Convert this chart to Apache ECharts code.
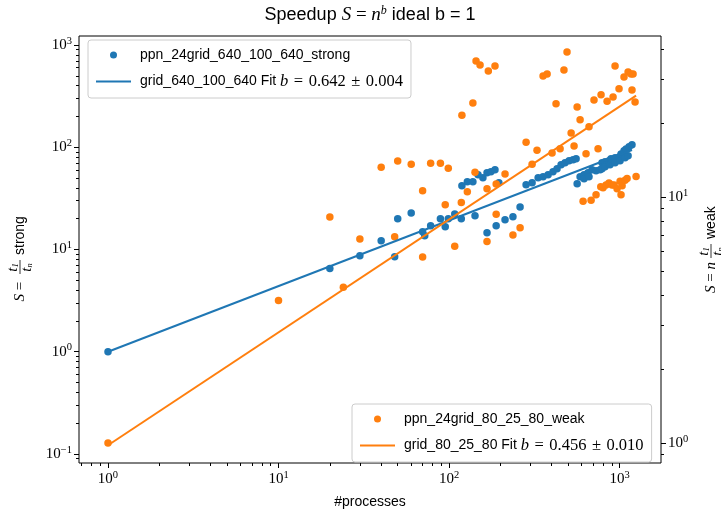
<!DOCTYPE html>
<html>
<head>
<meta charset="utf-8">
<script src="https://cdn.jsdelivr.net/npm/echarts@6/dist/echarts.min.js"></script>
<style>
html, body { margin: 0; background: #fff; }
#chart { width: 721px; height: 512px; }
</style>
</head>
<body>
<div id="chart"></div>
<script>
// strong scaling, left axis: [processes, speedup]
const strongPoints = [
  [1, 1.0], [20, 6.5], [30, 8.7], [40, 12.2], [48, 8.5], [50, 20.0], [60, 22.8],
  [70, 14.9], [72, 13.6], [78, 17.1], [89, 20.0], [95, 16.7], [99, 20.0], [108, 22.3],
  [118, 20.0], [119, 42.0], [128, 45.9], [138, 45.9], [142, 21.4], [148, 53.7],
  [158, 50.2], [167, 56.2], [167, 14.6], [176, 57.5], [186, 60.1], [189, 17.1],
  [196, 44.9], [213, 19.5], [237, 20.9], [261, 26.1], [283, 42.9], [307, 44.9],
  [333, 50.2], [356, 51.4], [381, 53.7], [407, 57.5], [430, 61.5], [454, 67.3],
  [479, 70.4], [506, 73.6], [534, 75.3], [556, 77.0], [564, 43.9], [587, 51.4],
  [619, 53.7], [619, 49.1], [653, 56.2], [662, 51.4], [690, 60.1], [728, 58.8],
  [769, 60.1], [789, 70.4], [789, 61.5], [822, 72.0], [822, 64.3], [867, 73.6],
  [879, 67.3], [891, 77.0], [941, 78.8], [941, 70.4], [993, 80.5], [1007, 73.6],
  [1020, 86.1], [1062, 92.2], [1077, 78.8], [1092, 96.4], [1122, 82.4],
  [1137, 100.9], [1183, 105.5]
];
// weak scaling, right axis: [processes, n*t1/tn]
const weakPoints = [
  [1, 1.0], [10, 3.8], [20, 8.3], [24, 4.3], [30, 6.75], [40, 13.2], [48, 6.9],
  [50, 14.0], [60, 13.6], [70, 5.7], [70, 10.6], [78, 13.7], [89, 13.7], [95, 9.3],
  [99, 13.1], [108, 6.3], [118, 9.5], [119, 21.5], [128, 10.5], [138, 24.1],
  [142, 12.6], [144, 35.7], [152, 34.4], [167, 10.8], [167, 6.6], [170, 32.5],
  [186, 34.1], [189, 11.3], [189, 8.5], [213, 12.4], [237, 7.0], [261, 7.5],
  [283, 16.7], [307, 13.6], [328, 15.5], [356, 31.0], [376, 31.6], [402, 15.1],
  [424, 23.9], [448, 15.7], [472, 32.8], [492, 38.8], [520, 18.2], [541, 16.1],
  [564, 23.2], [587, 20.6], [611, 9.6], [636, 15.0], [662, 19.3], [681, 9.7],
  [708, 24.8], [728, 10.2], [748, 15.7], [776, 11.0], [779, 26.0], [800, 10.9],
  [833, 11.2], [845, 24.5], [867, 11.4], [903, 11.2], [916, 25.5], [929, 11.2],
  [941, 34.1], [967, 10.8], [993, 27.5], [1007, 11.6], [1020, 10.2], [1035, 11.1],
  [1062, 30.7], [1077, 11.7], [1107, 11.9], [1122, 32.2], [1168, 31.6],
  [1183, 27.2], [1200, 31.6], [1233, 24.3], [1250, 12.1]
];
const strongFit = [[1, 1.0], [1183, 94.0]];
const weakFit = [[1, 0.98], [1250, 25.8]];

const xMajor = [1, 10, 100, 1000];
const xMinor = [0.7, 0.8, 0.9, 2, 3, 4, 5, 6, 7, 8, 9, 20, 30, 40, 50, 60, 70, 80, 90,
  200, 300, 400, 500, 600, 700, 800, 900];
const yLeftMajor = [0.1, 1, 10, 100, 1000];
const yLeftMinor = [0.09, 0.2, 0.3, 0.4, 0.5, 0.6, 0.7, 0.8, 0.9, 2, 3, 4, 5, 6, 7, 8, 9,
  20, 30, 40, 50, 60, 70, 80, 90, 200, 300, 400, 500, 600, 700, 800, 900];
const yRightMajor = [1, 10];
const yRightMinor = [0.9, 2, 3, 4, 5, 6, 7, 8, 9, 20, 30, 40];

const BLUE = '#1f77b4';
const ORANGE = '#ff7f0e';
const SANS = 'Liberation Sans';
const SERIF = 'Liberation Serif';
const SP = '\u2004';

const powRich = {
  b: { fontFamily: SERIF, fontSize: 15, color: '#000' },
  e: { fontFamily: SERIF, fontSize: 10.5, color: '#000', padding: [0, 0, 8, 0] }
};
function powLabel(v) {
  const e = Math.round(Math.log10(v));
  return '{b|10}{e|' + (e < 0 ? '\u2212' + (-e) : e) + '}';
}

function majorAxis(min, max, ticks, pos, extra) {
  return Object.assign({
    type: 'log', logBase: 10, min: min, max: max, position: pos,
    axisLine: { show: false },
    splitLine: { show: false },
    axisTick: { show: true, length: 5, customValues: ticks, lineStyle: { color: '#000', width: 1 } },
    axisLabel: { customValues: ticks, formatter: powLabel, rich: powRich, margin: 7 }
  }, extra || {});
}
function minorAxis(min, max, ticks, pos) {
  return {
    type: 'log', logBase: 10, min: min, max: max, position: pos, offset: 0,
    axisLine: { show: false },
    splitLine: { show: false },
    axisTick: { show: true, length: 3, customValues: ticks, lineStyle: { color: '#000', width: 1 } },
    axisLabel: { show: false }
  };
}

const legendRich = {
  t: { fontFamily: SANS, fontSize: 14, color: '#000', lineHeight: 16 },
  i: { fontFamily: SERIF, fontSize: 16.5, fontStyle: 'italic', color: '#000', lineHeight: 16 },
  m: { fontFamily: SERIF, fontSize: 16.5, color: '#000', lineHeight: 16 }
};
const legendText = {
  'ppn_24grid_640_100_640_strong': '{t|ppn_24grid_640_100_640_strong}',
  'grid_640_100_640 Fit': '{t|grid_640_100_640 Fit }{i|b}{m|' + SP + '=' + SP + '0.642' + SP + '\u00b1' + SP + '0.004}',
  'ppn_24grid_80_25_80_weak': '{t|ppn_24grid_80_25_80_weak}',
  'grid_80_25_80 Fit': '{t|grid_80_25_80 Fit }{i|b}{m|' + SP + '=' + SP + '0.456' + SP + '\u00b1' + SP + '0.010}'
};
const lineIcon = 'path://M0 0H35V2H0Z';

function legendBox(names, left, top) {
  return {
    orient: 'vertical', left: left, top: top,
    data: [{ name: names[0], icon: 'circle' }, { name: names[1], icon: lineIcon }],
    itemWidth: 35, itemHeight: 7, itemGap: 11,
    padding: [8, 8, 8, 8],
    backgroundColor: 'rgba(255,255,255,0.8)',
    borderColor: '#cccccc', borderWidth: 1, borderRadius: 3,
    selectedMode: false,
    formatter: function (name) { return legendText[name]; },
    textStyle: { rich: legendRich, padding: [0, 0, 0, 4] }
  };
}

const mathRich = {
  i: { fontFamily: SERIF, fontSize: 15, fontStyle: 'italic', fill: '#000' },
  r: { fontFamily: SERIF, fontSize: 15, fill: '#000' },
  s: { fontFamily: SERIF, fontSize: 8.5, fontStyle: 'italic', fill: '#000', padding: [5, 0, 0, 0] },
  e: { fontFamily: SERIF, fontSize: 12, fontStyle: 'italic', fill: '#000', padding: [0, 0, 9, 0] },
  a: { fontFamily: SANS, fontSize: 18, fill: '#000' },
  w: { fontFamily: SANS, fontSize: 14, fill: '#000' }
};

function fracLabel(x, y, prefix, word, fx) {
  return {
    type: 'group', x: x, y: y, rotation: Math.PI / 2,
    children: [
      { type: 'text', x: fx - 4, y: 0, style: { text: prefix, rich: mathRich, align: 'right', verticalAlign: 'middle' } },
      { type: 'text', x: fx + 6.5, y: -6.5, style: { text: '{i|t}{s|1}', rich: mathRich, align: 'center', verticalAlign: 'middle' } },
      { type: 'line', shape: { x1: fx, y1: 0, x2: fx + 14, y2: 0 }, style: { stroke: '#000', lineWidth: 0.8 } },
      { type: 'text', x: fx + 6.5, y: 7.5, style: { text: '{i|t}{s|n}', rich: mathRich, align: 'center', verticalAlign: 'middle' } },
      { type: 'text', x: fx + 19, y: 0, style: { text: '{w|' + word + '}', rich: mathRich, align: 'left', verticalAlign: 'middle' } }
    ]
  };
}

const chart = echarts.init(document.getElementById('chart'), null, { renderer: 'canvas' });
chart.setOption({
  animation: false,
  backgroundColor: '#fff',
  grid: {
    left: 79, top: 36, width: 582, height: 427,
    show: true, borderColor: '#000', borderWidth: 1, backgroundColor: 'transparent',
    outerBoundsMode: 'none'
  },
  xAxis: [
    majorAxis(0.676, 1750, xMajor, 'bottom', {
      name: '#processes', nameLocation: 'middle', nameGap: 32,
      nameTextStyle: { fontFamily: SANS, fontSize: 14, color: '#000' }
    }),
    minorAxis(0.676, 1750, xMinor, 'bottom')
  ],
  yAxis: [
    majorAxis(0.0816, 1225, yLeftMajor, 'left'),
    minorAxis(0.0816, 1225, yLeftMinor, 'left'),
    majorAxis(0.83, 45.1, yRightMajor, 'right'),
    minorAxis(0.83, 45.1, yRightMinor, 'right')
  ],
  legend: [
    legendBox(['ppn_24grid_640_100_640_strong', 'grid_640_100_640 Fit'], 88, 40),
    legendBox(['ppn_24grid_80_25_80_weak', 'grid_80_25_80 Fit'], 352, 404)
  ],
  graphic: [
    {
      type: 'text', x: 370, y: 15,
      style: {
        text: '{a|Speedup }{m|S}{r| = }{m|n}{e|b}{a| ideal b = 1}',
        rich: Object.assign({}, mathRich, {
          m: { fontFamily: SERIF, fontSize: 19, fontStyle: 'italic', fill: '#000' },
          r: { fontFamily: SERIF, fontSize: 19, fill: '#000' }
        }),
        align: 'center', verticalAlign: 'middle'
      }
    },
    fracLabel(20, 250, '{i|S}{r| = }', 'strong', -24),
    fracLabel(711, 243, '{i|S}{r| = }{i|n}', 'weak', -15)
  ],
  series: [
    {
      name: 'ppn_24grid_640_100_640_strong', type: 'scatter',
      xAxisIndex: 0, yAxisIndex: 0, data: strongPoints,
      symbol: 'circle', symbolSize: 7.5, itemStyle: { color: BLUE, opacity: 1 }
    },
    {
      name: 'grid_640_100_640 Fit', type: 'line',
      xAxisIndex: 0, yAxisIndex: 0, data: strongFit,
      showSymbol: false, lineStyle: { color: BLUE, width: 2 }, itemStyle: { color: BLUE }
    },
    {
      name: 'ppn_24grid_80_25_80_weak', type: 'scatter',
      xAxisIndex: 0, yAxisIndex: 2, data: weakPoints,
      symbol: 'circle', symbolSize: 7.5, itemStyle: { color: ORANGE, opacity: 1 }
    },
    {
      name: 'grid_80_25_80 Fit', type: 'line',
      xAxisIndex: 0, yAxisIndex: 2, data: weakFit,
      showSymbol: false, lineStyle: { color: ORANGE, width: 2 }, itemStyle: { color: ORANGE }
    }
  ]
});
</script>
</body>
</html>
